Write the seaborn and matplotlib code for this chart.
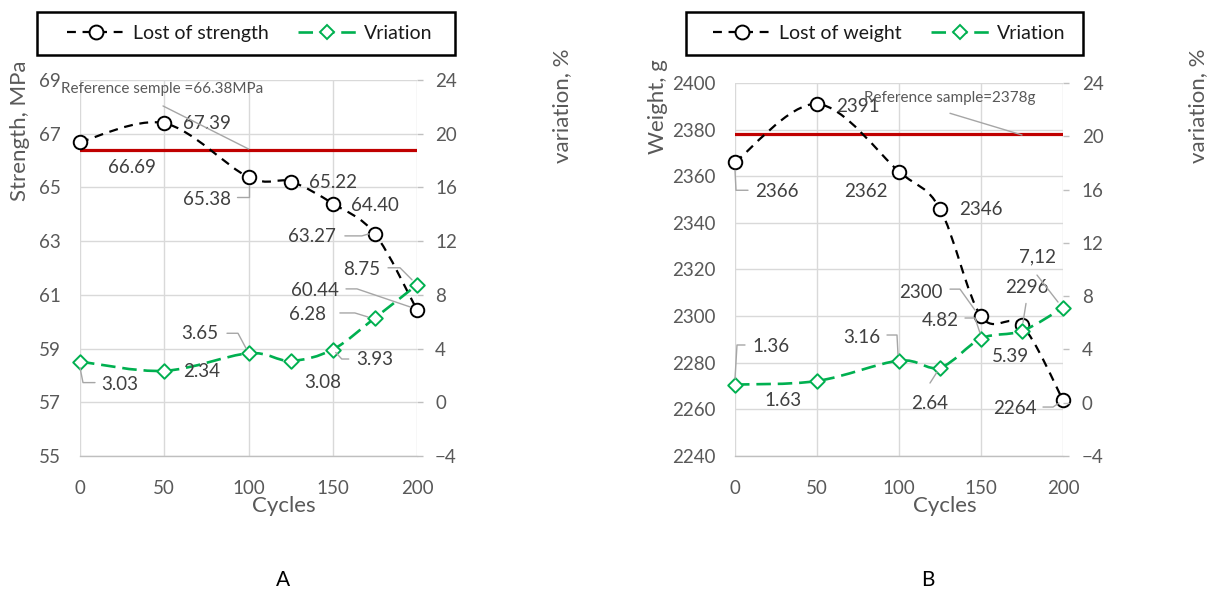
import numpy as np
import matplotlib
matplotlib.use("Agg")
import matplotlib.pyplot as plt
import seaborn as sns
from matplotlib.path import Path
from matplotlib.patches import PathPatch, Rectangle
from matplotlib.lines import Line2D
from matplotlib.transforms import IdentityTransform

# ---- data -------------------------------------------------------------
cycles = [0, 50, 100, 125, 150, 175, 200]

strength = [66.69, 67.39, 65.38, 65.22, 64.40, 63.27, 60.44]
strength_var = [3.03, 2.34, 3.65, 3.08, 3.93, 6.28, 8.75]
ref_strength = 66.38

weight = [2366, 2391, 2362, 2346, 2300, 2296, 2264]
weight_var = [1.36, 1.63, 3.16, 2.64, 4.82, 5.39, 7.12]
ref_weight = 2378

strength_ticks = [55, 57, 59, 61, 63, 65, 67, 69]
weight_ticks = [2240, 2260, 2280, 2300, 2320, 2340, 2360, 2380, 2400]
var_ticks = [-4, 0, 4, 8, 12, 16, 20, 24]
cycle_ticks = [0, 50, 100, 150, 200]

# ---- style ------------------------------------------------------------
sns.set_style("white")
plt.rcParams["font.family"] = ["Lato", "DejaVu Sans"]

W, H = 1215, 593
fig = plt.figure(figsize=(W / 100, H / 100), dpi=100)

BLACK_LINE = "#000000"
GREEN = "#00B050"
RED = "#C00000"
GRID = "#D9D9D9"
TICK_C = "#595959"
LABEL_C = "#404040"
LEADER_C = "#A6A6A6"


def fx(px):
    return px / W


def fy(py):
    return 1 - py / H


def smooth_path(x, y):
    """Bezier path through the points, Excel-style smoothed line."""
    pts = np.column_stack([x, y]).astype(float)
    n = len(pts)
    verts = [pts[0]]
    codes = [Path.MOVETO]
    for i in range(n - 1):
        p0 = pts[max(i - 1, 0)]
        p1 = pts[i]
        p2 = pts[i + 1]
        p3 = pts[min(i + 2, n - 1)]
        c1 = p1 + (p2 - p0) / 6.0
        c2 = p2 - (p3 - p1) / 6.0
        verts += [c1, c2, p2]
        codes += [Path.CURVE4] * 3
    return Path(verts, codes)


def leader(ax, x, y, offsets):
    """Leader line given as pixel offsets (dx, dy downward) from a data point."""
    bx, by = ax.transData.transform((x, y))
    xs = [bx + dx for dx, dy in offsets]
    ys = [by - dy for dx, dy in offsets]
    fig.add_artist(Line2D(xs, ys, transform=IdentityTransform(),
                          color=LEADER_C, lw=1.0, zorder=7))


def value_label(ax, text, x, y, off, size=13.5, color=LABEL_C):
    ax.annotate(text, xy=(x, y), xytext=(off[0], -off[1]),
                textcoords="offset pixels", ha="center", va="center",
                fontsize=size, color=color, zorder=8, annotation_clip=False)


def build_panel(rect, left_vals, right_vals, ref, left_lim, left_ticks,
                left_pad, right_pad):
    ax = fig.add_axes(rect)
    ax2 = ax.twinx()
    ax.set_xlim(0, 200)
    ax.set_ylim(*left_lim)
    ax2.set_ylim(-4, 24)
    ax.set_xticks(cycle_ticks)
    ax.set_yticks(left_ticks)
    ax2.set_yticks(var_ticks)

    ax.grid(True, color=GRID, lw=1.0, zorder=0)
    ax.set_axisbelow(True)
    ax2.grid(False)
    for a in (ax, ax2):
        for s in a.spines.values():
            s.set_visible(False)
    ax.spines["bottom"].set_visible(True)
    ax.spines["bottom"].set_color("#BFBFBF")
    ax.spines["bottom"].set_linewidth(1.0)

    ax.tick_params(axis="y", length=0, pad=left_pad, labelsize=13.5,
                   labelcolor=TICK_C)
    ax.tick_params(axis="x", length=0, pad=17, labelsize=13.5,
                   labelcolor=TICK_C)
    ax2.tick_params(axis="y", length=4.5, width=1.0, color="#BFBFBF",
                    pad=right_pad, labelsize=13.5, labelcolor=TICK_C)

    # reference level
    ax.axhline(ref, color=RED, lw=2.3, zorder=2)

    # smoothed dashed series
    ax.add_patch(PathPatch(smooth_path(cycles, left_vals), fill=False,
                           edgecolor=BLACK_LINE, lw=1.6,
                           linestyle=(0, (4, 3)), zorder=3, clip_on=False))
    ax2.add_patch(PathPatch(smooth_path(cycles, right_vals), fill=False,
                            edgecolor=GREEN, lw=1.9,
                            linestyle=(0, (5.5, 2.6)), zorder=3, clip_on=False))

    sns.scatterplot(x=cycles, y=left_vals, ax=ax, marker="o", s=95,
                    color="white", edgecolor="black", linewidth=1.4,
                    zorder=4, legend=False, clip_on=False)
    sns.scatterplot(x=cycles, y=right_vals, ax=ax2, marker="D", s=55,
                    color="white", edgecolor=GREEN, linewidth=1.4,
                    zorder=4, legend=False, clip_on=False)
    ax.set_xlabel("")
    ax.set_ylabel("")
    ax2.set_ylabel("")
    return ax, ax2


def legend_box(label, box, center):
    x0, y0, x1, y1 = box
    fig.add_artist(Rectangle((fx(x0), fy(y1)), fx(x1) - fx(x0),
                             fy(y0) - fy(y1), transform=fig.transFigure,
                             fill=False, edgecolor="black", lw=1.8))
    h1 = Line2D([], [], color=BLACK_LINE, lw=1.6, ls=(0, (4, 3)), marker="o",
                ms=10, mfc="white", mec="black", mew=1.4)
    h2 = Line2D([], [], color=GREEN, lw=1.9, ls=(0, (5.5, 2.6)), marker="D",
                ms=7.5, mfc="white", mec=GREEN, mew=1.4)
    fig.legend([h1, h2], [label, "Vriation"], loc="center",
               bbox_to_anchor=(fx(center[0]), fy(center[1])),
               bbox_transform=fig.transFigure, ncol=2, frameon=False,
               fontsize=14, handlelength=3.0, handletextpad=0.4,
               columnspacing=1.5, labelcolor="#1a1a1a")


def fmt(v, nd=2):
    return f"{v:.{nd}f}"


# ---- panel A: strength ------------------------------------------------
axA, axA2 = build_panel([fx(80), fy(456), fx(417) - fx(80), fy(80) - fy(456)],
                        strength, strength_var, ref_strength, (55, 69),
                        strength_ticks, left_pad=14, right_pad=8.5)

s_off = [(52, 25), (42.5, 0), (-41.5, 22), (42.4, 0.5), (42, 1.5),
         (-63, 3), (-102, -19)]
for x, v, o in zip(cycles, strength, s_off):
    value_label(axA, fmt(v), x, v, o)
leader(axA, 100, 65.38, [(-11.5, 20), (0, 20), (0, 9)])
leader(axA, 175, 63.27, [(-30, 2), (-13, 2), (-6, 0)])
leader(axA, 200, 60.44, [(-71, -21), (-60, -21), (-7, -3)])

sv_off = [(40, 23.4), (37.7, 1), (-48.5, -20), (32.4, 22), (42, 9.5),
          (-67, -3), (-55, -15)]
for x, v, o in zip(cycles, strength_var, sv_off):
    value_label(axA2, fmt(v), x, v, o)
leader(axA2, 0, 3.03, [(0, 6), (3, 21), (15, 21)])
leader(axA2, 100, 3.65, [(-21.5, -20), (-10.5, -20), (-2.5, -5)])
leader(axA2, 150, 3.93, [(3, 3), (9, 9.5), (16, 9.5)])
leader(axA2, 175, 6.28, [(-35, -5), (-20, -5), (-7, -1)])
leader(axA2, 200, 8.75, [(-29, -17), (-17, -17), (-5, -5)])

value_label(axA, f"Reference semple ={ref_strength:.2f}MPa", 100, ref_strength,
            (-86.5, -61.4), size=11, color=TICK_C)
leader(axA, 100, ref_strength, [(-85.5, -44.4), (0, -1.4)])

# ---- panel B: weight --------------------------------------------------
axB, axB2 = build_panel([fx(735), fy(456), fx(1063) - fx(735), fy(83) - fy(456)],
                        weight, weight_var, ref_weight, (2240, 2400),
                        weight_ticks, left_pad=14, right_pad=9)

w_off = [(42, 29.7), (41, 3), (-33, 20.4), (41, 1), (-60, -24),
         (5, -38.4), (-48, 8)]
for x, v, o in zip(cycles, weight, w_off):
    value_label(axB, fmt(v, 0), x, v, o)
leader(axB, 0, 2366, [(0, 8), (1, 28), (13, 28)])
leader(axB, 150, 2300, [(-31, -27), (-21, -27), (-6, -6)])
leader(axB, 175, 2296, [(4, -22), (1, -3)])
leader(axB, 200, 2264, [(-20, 7), (-10, 7), (-4, 3)])

wv_labels = [fmt(v) for v in weight_var]
wv_labels[-1] = wv_labels[-1].replace(".", ",")
wv_off = [(36, -37.6), (-34, 19), (-37, -23.6), (-10, 35.5), (-41, -18.5),
          (-12, 26), (-26, -50.8)]
for x, v, t, o in zip(cycles, weight_var, wv_labels, wv_off):
    value_label(axB2, t, x, v, o)
leader(axB2, 0, 1.36, [(10, -39.6), (2, -39.6), (0, -6)])
leader(axB2, 100, 3.16, [(-12, -25.6), (-2, -25.6), (-1, -6)])
leader(axB2, 125, 2.64, [(-10, 15.5), (-3, 4.5)])
leader(axB2, 150, 4.82, [(-16, -20.5), (-6, -20.5), (-1, -5.5)])
leader(axB2, 200, 7.12, [(-26, -32.8), (-5, -5.8)])

value_label(axB, f"Reference sample={ref_weight}g", 175, ref_weight,
            (-72, -36), size=11, color=TICK_C)
leader(axB, 175, ref_weight, [(-72, -21), (0, 0.7)])

# ---- legends, axis titles, panel letters ------------------------------
legend_box("Lost of strength", (37, 12, 455, 55), (250, 33.5))
legend_box("Lost of weight", (686, 12, 1083, 55), (889.5, 33.5))

title_kw = dict(fontsize=16, color=TICK_C, ha="center", va="center")
fig.text(fx(20), fy(131), "Strength, MPa", rotation=90, **title_kw)
fig.text(fx(562), fy(106), "variation, %", rotation=90, **title_kw)
fig.text(fx(658), fy(107), "Weight, g", rotation=90, **title_kw)
fig.text(fx(1198), fy(106), "variation, %", rotation=90, **title_kw)
fig.text(fx(284), fy(506), "Cycles", **title_kw)
fig.text(fx(945), fy(506), "Cycles", **title_kw)

fig.text(fx(283), fy(580), "A", fontsize=15, color="black", ha="center", va="center")
fig.text(fx(928), fy(580), "B", fontsize=15, color="black", ha="center", va="center")

fig.savefig("out.png", dpi=100)
